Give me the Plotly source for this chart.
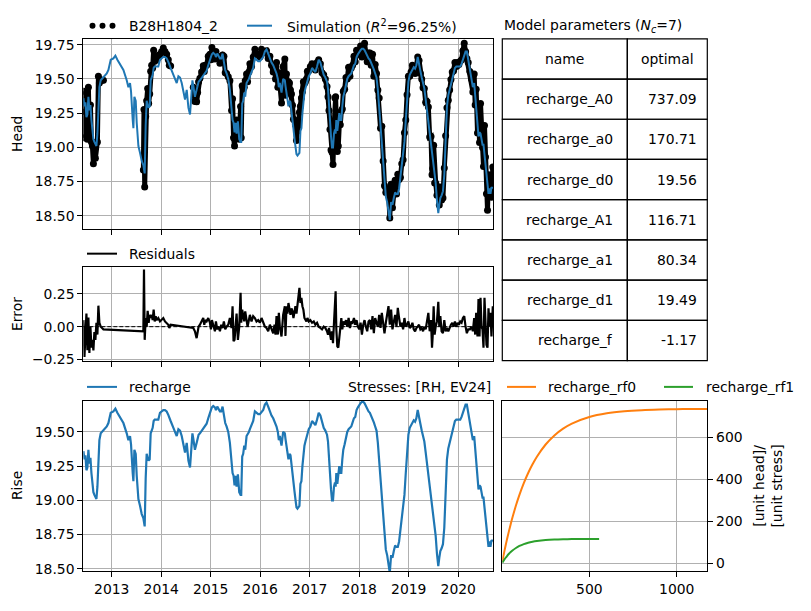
import plotly.graph_objects as go

# ---------------- data ----------------
# time in decimal years, simulated head (= recharge contribution), residual (None = no observation)
t_years = [
    2012.428, 2012.449, 2012.469, 2012.489, 2012.509, 2012.529, 2012.549, 2012.570, 2012.590, 2012.610,
    2012.630, 2012.650, 2012.670, 2012.691, 2012.711, 2012.731, 2012.751, 2012.778, 2012.805, 2012.832,
    2012.865, 2012.900, 2012.933, 2012.980, 2013.034, 2013.074, 2013.114, 2013.168, 2013.236, 2013.303,
    2013.337, 2013.370, 2013.390, 2013.424, 2013.438, 2013.458, 2013.485, 2013.505, 2013.539, 2013.572,
    2013.606,
    2013.639, 2013.652, 2013.666, 2013.686, 2013.706, 2013.726, 2013.746, 2013.767, 2013.787, 2013.807,
    2013.827, 2013.847, 2013.868, 2013.888, 2013.908, 2013.941, 2013.975, 2014.009, 2014.042, 2014.076,
    2014.110, 2014.143, 2014.163, 2014.190,
    2014.246, 2014.279, 2014.313, 2014.347, 2014.380, 2014.414, 2014.448, 2014.481, 2014.515, 2014.549,
    2014.582, 2014.603, 2014.630,
    2014.648, 2014.681, 2014.715, 2014.735, 2014.755, 2014.782, 2014.816, 2014.849, 2014.870, 2014.890,
    2014.917, 2014.950, 2014.984, 2015.004, 2015.024, 2015.051, 2015.085, 2015.105, 2015.132, 2015.159,
    2015.186, 2015.212, 2015.239, 2015.266, 2015.293, 2015.320, 2015.354, 2015.387, 2015.421, 2015.441,
    2015.461, 2015.481, 2015.502, 2015.522, 2015.549, 2015.576, 2015.603, 2015.616, 2015.636, 2015.656,
    2015.677, 2015.697, 2015.724, 2015.744, 2015.771, 2015.791, 2015.824, 2015.858, 2015.892, 2015.925,
    2015.959, 2015.993, 2016.026, 2016.060, 2016.094, 2016.127, 2016.161, 2016.195, 2016.228, 2016.262,
    2016.289, 2016.309, 2016.329, 2016.356, 2016.376, 2016.396, 2016.430, 2016.463, 2016.497, 2016.510,
    2016.530, 2016.550, 2016.570, 2016.591, 2016.611, 2016.631, 2016.651, 2016.671, 2016.691, 2016.711,
    2016.732, 2016.752, 2016.772, 2016.792, 2016.812, 2016.832, 2016.852, 2016.872, 2016.893, 2016.913,
    2016.933, 2016.953, 2016.980, 2017.013, 2017.047, 2017.081, 2017.114, 2017.148, 2017.181, 2017.215,
    2017.248, 2017.282, 2017.315, 2017.349, 2017.369, 2017.389, 2017.409, 2017.430, 2017.450, 2017.470,
    2017.490, 2017.510, 2017.523, 2017.537, 2017.557, 2017.577, 2017.597, 2017.617, 2017.638, 2017.658,
    2017.678, 2017.705, 2017.732, 2017.758, 2017.785, 2017.812, 2017.839, 2017.866, 2017.893, 2017.919,
    2017.946, 2017.973, 2018.000, 2018.027, 2018.054, 2018.081, 2018.107, 2018.134, 2018.161, 2018.188,
    2018.215, 2018.242, 2018.268, 2018.295, 2018.322, 2018.349, 2018.376, 2018.403, 2018.430, 2018.456,
    2018.483, 2018.510, 2018.537, 2018.564, 2018.591, 2018.617, 2018.644, 2018.671, 2018.698, 2018.725,
    2018.752, 2018.779, 2018.805, 2018.832, 2018.859, 2018.886, 2018.913, 2018.940, 2018.966, 2018.993,
    2019.020, 2019.047, 2019.074, 2019.101, 2019.128, 2019.154, 2019.181, 2019.208, 2019.235, 2019.262,
    2019.289, 2019.315, 2019.342, 2019.369, 2019.396, 2019.423, 2019.450, 2019.470, 2019.483, 2019.503,
    2019.523, 2019.544, 2019.570, 2019.597, 2019.617, 2019.638, 2019.664, 2019.691, 2019.718, 2019.745,
    2019.772, 2019.799, 2019.826, 2019.852, 2019.879, 2019.906, 2019.933, 2019.960, 2019.987, 2020.013,
    2020.040, 2020.067, 2020.094, 2020.121, 2020.148, 2020.174, 2020.201, 2020.235, 2020.268, 2020.295,
    2020.322, 2020.342, 2020.362, 2020.389, 2020.409, 2020.430, 2020.450, 2020.470, 2020.490, 2020.510,
    2020.530, 2020.550, 2020.570, 2020.591, 2020.611, 2020.631, 2020.651, 2020.671, 2020.698,
]

head_sim = [
    19.36, 19.30, 19.33, 19.22, 19.24, 19.37, 19.27, 19.31, 19.20, 19.11,
    19.06, 19.04, 19.02, 19.01, 19.10, 19.36, 19.44, 19.49, 19.50, 19.51,
    19.52, 19.54, 19.565, 19.64, 19.65, 19.67, 19.64, 19.61, 19.565, 19.49,
    19.44, 19.47, 19.41, 19.20, 19.14, 19.37, 19.34, 19.18, 19.01, 18.96,
    18.90,
    18.87, 18.84, 18.81, 19.16, 19.34, 19.31, 19.29, 19.30, 19.49, 19.51,
    19.53, 19.58, 19.59, 19.59, 19.59, 19.59, 19.64, 19.65, 19.66, 19.66,
    19.65, 19.625, 19.61, 19.58,
    19.53, 19.50, 19.47, 19.52, 19.51, 19.47, 19.40, 19.35, 19.42, 19.29,
    19.24, 19.38, 19.49,
    19.45, 19.37, 19.42, 19.45, 19.48, 19.49, 19.51, 19.53, 19.54, 19.55,
    19.56, 19.60, 19.65, 19.66, 19.68, 19.69, 19.68, 19.66, 19.685, 19.66,
    19.65, 19.65, 19.685, 19.625, 19.565, 19.54, 19.50, 19.42, 19.28, 19.20,
    19.18, 19.11, 19.18, 19.10, 19.19, 19.06, 19.04, 19.04, 19.32, 19.34,
    19.40, 19.37, 19.47, 19.48, 19.50, 19.52, 19.55, 19.58, 19.65, 19.64,
    19.63, 19.63, 19.65, 19.66, 19.70, 19.715, 19.685, 19.65, 19.62, 19.60,
    19.58, 19.56, 19.54, 19.50, 19.44, 19.47, 19.40, 19.50, 19.49, 19.45,
    19.38, 19.35, 19.30, 19.34, 19.33, 19.25, 19.19, 19.14, 19.07, 19.01,
    18.95, 18.94, 18.95, 18.96, 19.12, 19.14, 19.25, 19.35, 19.40, 19.43,
    19.46, 19.49, 19.52, 19.54, 19.58, 19.565, 19.55, 19.59, 19.64, 19.62,
    19.565, 19.53, 19.51, 19.48, 19.43, 19.28, 19.18, 19.08, 19.00, 19.00,
    19.10, 19.13, 19.10, 19.20, 19.12, 19.17, 19.25, 19.20, 19.20, 19.30,
    19.37, 19.41, 19.46, 19.50, 19.52, 19.53, 19.54, 19.57, 19.60, 19.61,
    19.66, 19.68, 19.70, 19.71, 19.72, 19.72, 19.71, 19.69, 19.66, 19.65,
    19.64, 19.62, 19.60, 19.57, 19.54, 19.51, 19.42, 19.27, 19.15, 19.05,
    18.90, 18.77, 18.64, 18.60, 18.54, 18.47, 18.60, 18.58, 18.63, 18.67,
    18.66, 18.66, 18.70, 18.78, 18.85, 18.93, 19.04, 19.20, 19.37, 19.48,
    19.53, 19.55, 19.57, 19.585, 19.575, 19.60, 19.66, 19.62, 19.56, 19.51,
    19.47, 19.43, 19.35, 19.27, 19.19, 19.11, 19.03, 18.96, 18.92, 18.86,
    18.80, 18.74, 18.61, 18.52, 18.58, 18.63, 18.65, 18.68, 18.80, 19.12,
    19.30, 19.38, 19.42, 19.48, 19.52, 19.56, 19.58, 19.59, 19.59, 19.59,
    19.59, 19.61, 19.64, 19.68, 19.70, 19.70, 19.64, 19.575, 19.50, 19.44,
    19.47, 19.37, 19.32, 19.18, 19.08, 19.11, 19.10, 19.06, 19.02, 19.02,
    18.94, 18.88, 18.80, 18.70, 18.66, 18.70, 18.66, 18.71, 18.70,
]

residual = [
    0.05, -0.23, -0.07, 0.10, -0.18, 0.07, -0.20, 0.00, -0.16, -0.10,
    -0.18, -0.04, -0.10, 0.03, -0.06, 0.16, 0.03, 0.00, -0.01, -0.02,
    None, None, None, None, None, None, None, None, None, None,
    None, None, None, None, None, None, None, None, None, None,
    None,
    -0.035, 0.436, -0.10, 0.066, 0.0, 0.12, 0.03, 0.09, 0.066, 0.09,
    0.05, 0.13, 0.04, 0.08, 0.05, 0.066, 0.04, 0.05, 0.066, 0.04,
    0.03, 0.015, -0.01, 0.015,
    None, None, None, None, None, None, None, None, None, None,
    None, None, None,
    -0.01, -0.035, -0.087, -0.05, 0.0, 0.015, 0.04, 0.066, 0.015, 0.05,
    0.04, 0.066, 0.03, -0.02, 0.05, 0.0, -0.035, 0.04, -0.02, 0.0,
    -0.035, 0.015, -0.01, 0.04, -0.02, 0.0, 0.015, 0.066, -0.01, 0.156,
    -0.11, -0.10, -0.02, 0.10, -0.10, 0.0, 0.258, 0.03, 0.13, 0.09,
    0.04, 0.117, 0.066, 0.0, 0.05, 0.09, 0.04, 0.08, 0.066, 0.04,
    0.05, 0.03, 0.066, 0.03, 0.0, -0.01, -0.035, 0.015, -0.02, -0.05,
    0.015, -0.06, 0.08, -0.06, 0.105, 0.0, -0.075, 0.09, 0.156, -0.07,
    0.156, 0.10, 0.18, 0.13, 0.09, 0.14, 0.117, 0.066, 0.13, 0.156,
    0.10, 0.18, 0.21, 0.296, 0.18, 0.22, 0.156, 0.13, 0.066, 0.05,
    0.04, 0.066, 0.04, 0.05, 0.03, 0.04, 0.015, 0.03, 0.0, -0.01,
    -0.02, 0.0, -0.01, -0.035, -0.06, -0.01, -0.05, -0.10, -0.035, -0.125,
    0.03, 0.23, 0.27, -0.02, -0.15, -0.16, -0.087, -0.035, 0.066, -0.02,
    0.04, 0.015, 0.05, 0.0, 0.066, -0.01, 0.04, 0.03, 0.066, 0.015,
    0.05, 0.0, -0.02, 0.03, -0.06, 0.015, 0.05, 0.0, -0.035, 0.04,
    0.05, -0.02, 0.08, -0.05, 0.066, 0.03, 0.0, 0.09, -0.01, 0.105,
    0.0, -0.05, 0.03, 0.08, 0.156, 0.015, 0.13, -0.02, 0.04, 0.09,
    0.0, 0.143, 0.066, 0.0, 0.03, -0.02, 0.066, 0.0, 0.015, 0.04,
    -0.01, 0.0, 0.03, -0.02, -0.035, -0.01, 0.0, 0.015, -0.02, -0.01,
    -0.035, 0.0, -0.02, 0.066, 0.105, -0.035, 0.05, -0.16, -0.075, 0.156,
    -0.06, 0.0, 0.04, 0.19, 0.0, 0.08, -0.035, -0.05, 0.05, -0.035,
    -0.01, -0.035, 0.0, 0.015, 0.03, 0.0, 0.04, 0.0, 0.03, 0.015,
    0.04, 0.03, 0.066, 0.08, 0.0, -0.05, -0.02, -0.02, 0.0, -0.035,
    0.066, -0.06, 0.105, -0.075, 0.21, -0.075, 0.22, 0.0, -0.02, -0.16,
    0.22, 0.05, -0.138, -0.16, 0.14, 0.0, 0.105, -0.075, 0.156,
]

year_ticks = [2013, 2014, 2015, 2016, 2017, 2018, 2019, 2020]

# step responses
rf_time0 = [2, 5, 10, 15, 20, 30, 40, 50, 60, 80, 100, 125, 150, 175, 200, 250, 300, 350, 400,
            500, 600, 700, 800, 900, 1000, 1100, 1175]
rf_step0 = [8.6, 21.3, 41.9, 62.0, 81.5, 118.8, 153.9, 187.1, 218.4, 275.8, 326.8, 382.7, 431.0, 472.6,
            508.7, 566.7, 609.9, 642.2, 666.3, 697.7, 715.2, 724.9, 730.3, 733.3, 735.0, 735.9, 736.3]
rf_time1 = [2, 5, 10, 15, 20, 30, 40, 50, 60, 80, 100, 125, 150, 175, 200, 250, 300, 350, 400, 450, 500, 556]
rf_step1 = [2.9, 7.0, 13.7, 19.9, 25.7, 36.4, 45.8, 54.1, 61.4, 73.6, 83.1, 92.1, 98.7, 103.5, 107.0,
            111.5, 113.9, 115.2, 115.9, 116.3, 116.5, 116.6]

param_names = ["recharge_A0", "recharge_a0", "recharge_d0", "recharge_A1",
               "recharge_a1", "recharge_d1", "recharge_f"]
param_optimal = ["737.09", "170.71", "19.56", "116.71", "80.34", "19.49", "-1.17"]

# ---------------- derived series ----------------
# observed head = simulation + residual (gaps where there is no observation)
obs_head_full = [None if r is None else s + r for s, r in zip(head_sim, residual)]
obs_t = [t for t, r in zip(t_years, residual) if r is not None]
obs_res = [r for r in residual if r is not None]

# ---------------- figure ----------------
W, H = 811, 611
FONT = "DejaVu Sans"
FS = 13.9
BLUE, ORANGE, GREEN = "#1f77b4", "#ff7f0e", "#2ca02c"
GRID = "#b0b0b0"


def px(x):
    return x / W


def py(y):
    return 1 - y / H


XL, XR = 83.3, 493.3
HEAD = (37.3, 230.0)
ERR = (268.3, 364.0)
RISE = (404.3, 576.7)
RESP = (502.3, 707.3)
XRANGE = [2012.426, 2020.708]

fig = go.Figure()

# observations: dense dots (drawn as a band of markers joined by a thick line)
fig.add_trace(go.Scatter(x=t_years, y=obs_head_full, mode="lines+markers", xaxis="x", yaxis="y",
                         connectgaps=False,
                         line=dict(color="black", width=5),
                         marker=dict(color="black", size=7, line=dict(width=0)), showlegend=False))
fig.add_trace(go.Scatter(x=t_years, y=head_sim, mode="lines", xaxis="x", yaxis="y",
                         line=dict(color=BLUE, width=2), showlegend=False))

fig.add_trace(go.Scatter(x=XRANGE, y=[0, 0], mode="lines", xaxis="x2", yaxis="y2",
                         line=dict(color="black", width=1, dash="4px,2px"), showlegend=False))
fig.add_trace(go.Scatter(x=obs_t, y=obs_res, mode="lines", xaxis="x2", yaxis="y2",
                         line=dict(color="black", width=2.2), showlegend=False))

fig.add_trace(go.Scatter(x=t_years, y=head_sim, mode="lines", xaxis="x3", yaxis="y3",
                         line=dict(color=BLUE, width=2.2), showlegend=False))

fig.add_trace(go.Scatter(x=rf_time0, y=rf_step0, mode="lines", xaxis="x4", yaxis="y4",
                         line=dict(color=ORANGE, width=2, shape="spline"), showlegend=False))
fig.add_trace(go.Scatter(x=rf_time1, y=rf_step1, mode="lines", xaxis="x4", yaxis="y4",
                         line=dict(color=GREEN, width=2, shape="spline"), showlegend=False))

axis_common = dict(showline=True, linecolor="black", linewidth=1, mirror=True,
                   ticks="outside", ticklen=5, tickwidth=1, tickcolor="black",
                   showgrid=True, gridcolor=GRID, gridwidth=1, zeroline=False,
                   tickfont=dict(family=FONT, size=FS, color="black"))

fig.update_layout(
    width=W, height=H, margin=dict(l=0, r=0, t=0, b=0),
    paper_bgcolor="white", plot_bgcolor="white", showlegend=False,
    font=dict(family=FONT, size=FS, color="black"),
    xaxis=dict(domain=[px(XL), px(XR)], anchor="y", range=XRANGE, tickvals=year_ticks,
               showticklabels=False, **axis_common),
    yaxis=dict(domain=[py(HEAD[1]), py(HEAD[0])], anchor="x", range=[18.404, 19.793],
               tickvals=[18.5, 18.75, 19.0, 19.25, 19.5, 19.75], tickformat=".2f", **axis_common),
    xaxis2=dict(domain=[px(XL), px(XR)], anchor="y2", range=XRANGE, tickvals=year_ticks,
                showticklabels=False, **axis_common),
    yaxis2=dict(domain=[py(ERR[1]), py(ERR[0])], anchor="x2", range=[-0.263, 0.456],
                tickvals=[-0.25, 0.0, 0.25], tickformat=".2f", **axis_common),
    xaxis3=dict(domain=[px(XL), px(XR)], anchor="y3", range=XRANGE, tickvals=year_ticks,
                ticktext=[str(y) for y in year_ticks], **axis_common),
    yaxis3=dict(domain=[py(RISE[1]), py(RISE[0])], anchor="x3", range=[18.483, 19.726],
                tickvals=[18.5, 18.75, 19.0, 19.25, 19.5], tickformat=".2f", **axis_common),
    xaxis4=dict(domain=[px(RESP[0]), px(RESP[1])], anchor="y4", range=[2, 1175],
                tickvals=[500, 1000], **axis_common),
    yaxis4=dict(domain=[py(RISE[1]), py(RISE[0])], anchor="x4", range=[-36.9, 774], side="right",
                tickvals=[0, 200, 400, 600], **axis_common),
)

shapes = []
annotations = []


def text(x, y, s, xanchor="left", angle=0, yanchor="middle"):
    annotations.append(dict(x=px(x), y=py(y), xref="paper", yref="paper", text=s, showarrow=False,
                            xanchor=xanchor, yanchor=yanchor, textangle=angle,
                            font=dict(family=FONT, size=FS, color="black")))


def hline(x0, x1, y, color, width=2):
    shapes.append(dict(type="line", xref="paper", yref="paper", x0=px(x0), x1=px(x1),
                       y0=py(y), y1=py(y), line=dict(color=color, width=width)))


# y-axis labels
text(17, (HEAD[0] + HEAD[1]) / 2, "Head", xanchor="center", angle=-90)
text(17, (ERR[0] + ERR[1]) / 2, "Error", xanchor="center", angle=-90)
text(17, (RISE[0] + RISE[1]) / 2, "Rise", xanchor="center", angle=-90)
text(768, 491, "[unit head]/<br>[unit stress]", xanchor="center", angle=-90)

# legend row 1
for cx in (92.5, 102.5, 112.5):
    shapes.append(dict(type="circle", xref="paper", yref="paper", x0=px(cx - 3), x1=px(cx + 3),
                       y0=py(24 + 3), y1=py(24 - 3), fillcolor="black", line=dict(width=0)))
text(127, 24, "B28H1804_2")
hline(247, 272, 24, BLUE)
text(285, 24, "Simulation (<i>R</i><sup>2</sup>=96.25%)")
# legend row 2
hline(87, 117, 255, "black")
text(127, 255, "Residuals")
# legend row 3
hline(87, 117, 390, BLUE)
text(127, 390, "recharge")
text(493, 390, "Stresses: [RH, EV24]", xanchor="right")
hline(507, 536, 390, ORANGE)
text(546, 390, "recharge_rf0")
hline(664, 693, 390, GREEN)
text(704, 390, "recharge_rf1")

# parameter table
text(502, 24, "Model parameters (<i>N<sub>c</sub></i>=7)")
TX0, TX1, TXM = 502.3, 707.3, 627.3
TY0, TY1 = 37.3, 363.3
nrows = len(param_names) + 1
rh = (TY1 - TY0) / nrows
for i in range(nrows):
    y0 = TY0 + i * rh
    for (a, b) in ((TX0, TXM), (TXM, TX1)):
        shapes.append(dict(type="rect", xref="paper", yref="paper", x0=px(a), x1=px(b),
                           y0=py(y0 + rh), y1=py(y0), line=dict(color="black", width=1.2)))
text((TX0 + TXM) / 2, TY0 + rh / 2, "name", xanchor="center")
text((TXM + TX1) / 2, TY0 + rh / 2, "optimal", xanchor="center")
for i, (n, v) in enumerate(zip(param_names, param_optimal)):
    yc = TY0 + (i + 1.5) * rh
    text(615, yc, n, xanchor="right")
    text(699, yc, v, xanchor="right")

fig.update_layout(shapes=shapes, annotations=annotations)
fig.write_html("out.html")
